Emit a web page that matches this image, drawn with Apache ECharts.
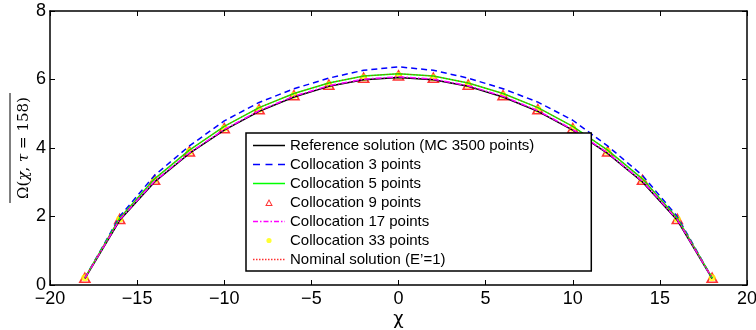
<!DOCTYPE html>
<html>
<head>
<meta charset="utf-8">
<script src="https://cdn.jsdelivr.net/npm/echarts@6/dist/echarts.min.js"></script>
<style>html,body{margin:0;padding:0;background:#fff;}#c{width:756px;height:330px;}</style>
</head>
<body>
<div id="c"></div>
<script>
// ---- data ----
const chi = [-18,-16,-14,-12,-10,-8,-6,-4,-2,0,2,4,6,8,10,12,14,16,18];
const refMC3500 = [0.19,1.89,3.01,3.84,4.52,5.07,5.49,5.80,5.99,6.06,5.99,5.80,5.49,5.07,4.52,3.84,3.01,1.89,0.19];
const coll3  = [0.20,2.00,3.20,4.06,4.79,5.33,5.73,6.04,6.27,6.37,6.27,6.04,5.73,5.34,4.81,4.06,3.20,2.00,0.20];
const coll5  = [0.21,1.95,3.10,3.94,4.63,5.18,5.59,5.90,6.10,6.17,6.10,5.90,5.59,5.18,4.63,3.94,3.10,1.95,0.21];
const coll9  = [0.21,1.93,3.07,3.90,4.58,5.13,5.54,5.85,6.05,6.12,6.05,5.85,5.54,5.13,4.58,3.90,3.07,1.93,0.21];
const coll17 = [0.20,1.91,3.03,3.86,4.54,5.09,5.51,5.82,6.01,6.08,6.01,5.82,5.51,5.09,4.54,3.86,3.03,1.91,0.20];
const coll33 = [0.21,1.93,3.07,3.90,4.58,5.13,5.54,5.85,6.05,6.12,6.05,5.85,5.54,5.13,4.58,3.90,3.07,1.93,0.21];
const nominal= [0.21,1.95,3.10,3.94,4.63,5.18,5.59,5.90,6.10,6.17,6.10,5.90,5.59,5.18,4.63,3.94,3.10,1.95,0.21];
const names = ['Reference solution (MC 3500 points)','Collocation 3 points','Collocation 5 points',
  'Collocation 9 points','Collocation 17 points','Collocation 33 points',"Nominal solution (E’=1)"];
const xTicks = {min:-20, max:20, interval:5};
const yTicks = {min:0, max:8, interval:2};

const pair = ys => chi.map((x,i)=>[x, ys[i]]);

// legend icon paths in a 32x14 box
const anchor = 'M0 0 L0 0 Z M32 14 L32 14 Z ';
const rect = (x0,x1,y0,y1)=>`M${x0} ${y0} L${x1} ${y0} L${x1} ${y1} L${x0} ${y1} Z `;
function segs(list, h){ return list.map(s=>rect(s[0],s[1],7-h/2,7+h/2)).join(''); }
const iconSolid = 'path://' + anchor + segs([[0,32]],1.5);
const iconDash = 'path://' + anchor + segs([[0,7],[12.5,19.5],[25,32]],1.5);
const iconDashDot = 'path://' + anchor + segs([[0,5],[7,8.5],[10.5,15.5],[17.5,19],[21,26],[28,29.5],[31.5,32]],1.5);
let dots=[]; for(let x=0;x<32;x+=3) dots.push([x,x+1.5]);
const iconDot = 'path://' + anchor + segs(dots,1.5);
const iconTri = 'path://' + anchor + 'M12.2 10.4 L19.8 10.4 L16 3.6 Z M13.9 9.4 L16 5.6 L18.1 9.4 Z';
const iconCirc = 'path://' + anchor + 'M16 4.4 A2.6 2.6 0 1 1 16 9.6 A2.6 2.6 0 1 1 16 4.4 Z';

const fmt = v => v < 0 ? '\u2212' + Math.abs(v) : String(v);
const axisFont = {fontFamily:'Liberation Sans', fontSize:18, color:'#000'};

const chart = echarts.init(document.getElementById('c'), null, {renderer:'canvas'});
chart.setOption({
  animation:false,
  backgroundColor:'#fff',
  grid:{left:50, right:9, top:11, bottom:45, containLabel:false, outerBoundsMode:'none'},
  xAxis:[
    {type:'value', ...xTicks, position:'bottom',
     axisLine:{onZero:false, lineStyle:{color:'#000', width:1.5}},
     axisTick:{inside:true, length:5, lineStyle:{color:'#000', width:1}},
     axisLabel:{...axisFont, margin:5, formatter:fmt},
     splitLine:{show:false},
     name:'χ', nameLocation:'middle', nameGap:25, nameMoveOverlap:false,
     nameTextStyle:{fontFamily:'DejaVu Sans', fontSize:18, color:'#000'}},
    {type:'value', ...xTicks, position:'top',
     axisLine:{onZero:false, lineStyle:{color:'#000', width:1.5}},
     axisTick:{inside:true, length:5, lineStyle:{color:'#000', width:1}},
     axisLabel:{show:false}, splitLine:{show:false}}
  ],
  yAxis:[
    {type:'value', ...yTicks, position:'left',
     axisLine:{show:true, onZero:false, lineStyle:{color:'#000', width:1.5}},
     axisTick:{show:true, inside:true, length:5, lineStyle:{color:'#000', width:1}},
     axisLabel:{...axisFont, margin:4},
     splitLine:{show:false},
     name:'{n|Ω(}{i|χ}{n|, }{i|τ}{n| = 158)}', nameLocation:'middle', nameGap:18, nameMoveOverlap:false,
     nameTextStyle:{rich:{
       n:{fontFamily:'DejaVu Serif', fontSize:15, color:'#000'},
       i:{fontFamily:'DejaVu Serif', fontStyle:'italic', fontSize:15, color:'#000'}}}},
    {type:'value', ...yTicks, position:'right',
     axisLine:{show:true, onZero:false, lineStyle:{color:'#000', width:1.5}},
     axisTick:{show:true, inside:true, length:5, lineStyle:{color:'#000', width:1}},
     axisLabel:{show:false}, splitLine:{show:false}}
  ],
  graphic:[{type:'line', shape:{x1:10, y1:93, x2:10, y2:203}, style:{stroke:'#000', lineWidth:1}}],
  legend:{
    orient:'vertical', left:246, top:133,
    padding:[5,57,4,7], itemGap:4, itemWidth:32, itemHeight:14,
    backgroundColor:'#fff', borderColor:'#000', borderWidth:1.5,
    textStyle:{fontFamily:'Liberation Sans', fontSize:15, color:'#000', padding:[0,0,0,0]},
    selectedMode:false,
    data:[
      {name:names[0], icon:iconSolid, itemStyle:{color:'#000', borderWidth:0}},
      {name:names[1], icon:iconDash, itemStyle:{color:'#0000ff', borderWidth:0}},
      {name:names[2], icon:iconSolid, itemStyle:{color:'#00ff00', borderWidth:0}},
      {name:names[3], icon:iconTri, itemStyle:{color:'#ff0000', borderWidth:0}},
      {name:names[4], icon:iconDashDot, itemStyle:{color:'#ff00ff', borderWidth:0}},
      {name:names[5], icon:iconCirc, itemStyle:{color:'#ffff00', borderWidth:0}},
      {name:names[6], icon:iconDot, itemStyle:{color:'#ff3030', borderWidth:0}}
    ]
  },
  series:[
    {name:names[0], type:'line', data:pair(refMC3500), symbol:'none', color:'#000',
     lineStyle:{color:'#000', width:1.5}},
    {name:names[1], type:'line', data:pair(coll3), symbol:'none', color:'#0000ff',
     lineStyle:{color:'#0000ff', width:1.5, type:[6,4]}},
    {name:names[2], type:'line', data:pair(coll5), symbol:'none', color:'#00ff00',
     lineStyle:{color:'#00ff00', width:1.5}},
    {name:names[3], type:'scatter', data:pair(coll9), symbol:'triangle', symbolSize:[10,9], color:'#ff0000',
     itemStyle:{color:'rgba(0,0,0,0)', borderColor:'#ff0000', borderWidth:1.6}},
    {name:names[4], type:'line', data:pair(coll17), symbol:'none', color:'#ff00ff',
     lineStyle:{color:'#ff00ff', width:1.5, type:[6,2,1.5,2]}},
    {name:names[5], type:'scatter', data:pair(coll33), symbol:'circle', symbolSize:7, color:'#ffff00',
     itemStyle:{color:'#ffff00', borderWidth:0}},
    {name:names[6], type:'line', data:pair(nominal), symbol:'none', color:'#ff0000',
     lineStyle:{color:'#ff0000', width:1, type:[1,2]}}
  ]
});
</script>
</body>
</html>
